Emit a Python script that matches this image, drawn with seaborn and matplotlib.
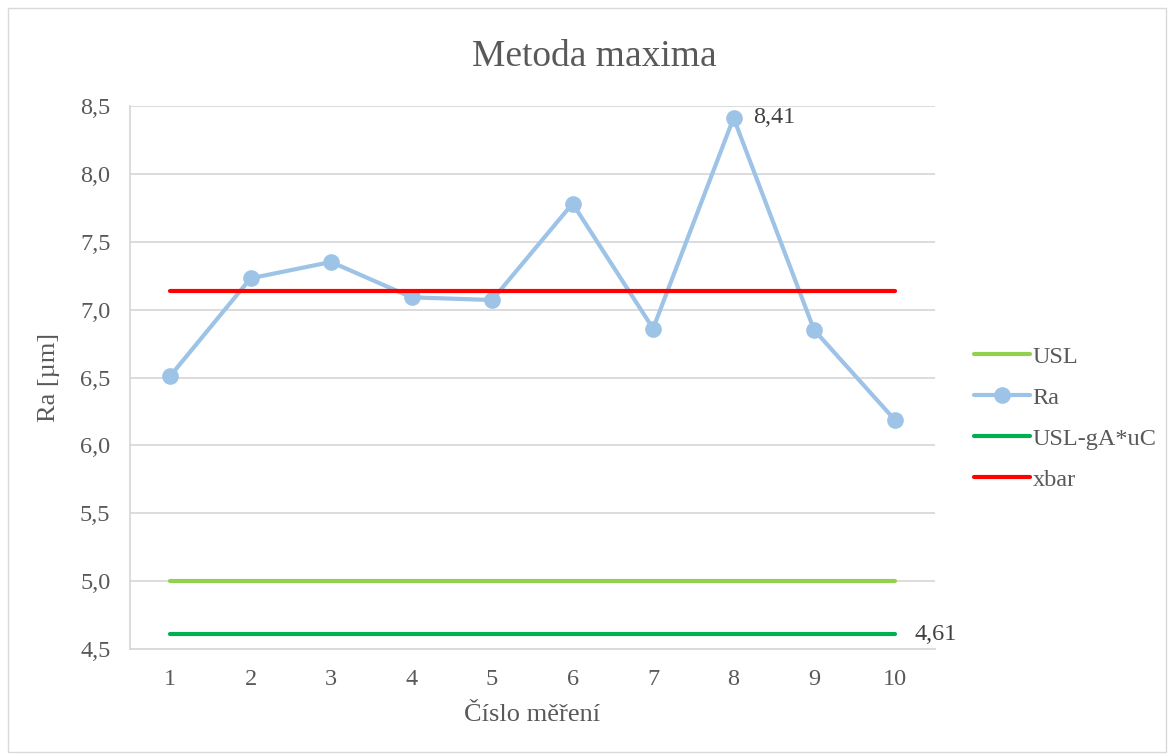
import pandas as pd
import matplotlib.pyplot as plt
import seaborn as sns
from matplotlib.patches import Rectangle
from matplotlib.ticker import FuncFormatter

# Chart data
mereni = [1, 2, 3, 4, 5, 6, 7, 8, 9, 10]
ra = [6.51, 7.23, 7.35, 7.09, 7.07, 7.78, 6.86, 8.41, 6.85, 6.19]
usl = [5.0] * 10
usl_ga_uc = [4.61] * 10
xbar = [7.134] * 10
y_ticks = [4.5, 5.0, 5.5, 6.0, 6.5, 7.0, 7.5, 8.0, 8.5]

data = pd.DataFrame({'mereni': mereni, 'USL': usl, 'Ra': ra,
                     'USL-gA*uC': usl_ga_uc, 'xbar': xbar})

sns.set_style('white')
plt.rcParams['font.family'] = ['Liberation Serif', 'DejaVu Serif']
text_col = '#595959'
grid_col = '#D9D9D9'

fig = plt.figure(figsize=(11.7, 7.55), dpi=100)
ax = fig.add_axes([0.111, 0.140, 0.688, 0.720])

sns.lineplot(data=data, x='mereni', y='USL', ax=ax, color='#92D050', linewidth=3, label='USL')
sns.lineplot(data=data, x='mereni', y='Ra', ax=ax, color='#9DC3E6', linewidth=3,
             marker='o', markersize=12, markeredgewidth=0, label='Ra')
sns.lineplot(data=data, x='mereni', y='USL-gA*uC', ax=ax, color='#00B050', linewidth=3, label='USL-gA*uC')
sns.lineplot(data=data, x='mereni', y='xbar', ax=ax, color='#FF0000', linewidth=3, label='xbar')

# data labels
i_max = ra.index(max(ra))
ax.annotate(f'{ra[i_max]:.2f}'.replace('.', ','), (mereni[i_max], ra[i_max]),
            xytext=(14, 0), textcoords='offset points', va='center', ha='left',
            fontsize=17.5, color='#404040')
ax.annotate(f'{usl_ga_uc[-1]:.2f}'.replace('.', ','), (mereni[-1], usl_ga_uc[-1]),
            xytext=(14, 0), textcoords='offset points', va='center', ha='left',
            fontsize=17.5, color='#404040')

ax.set_xlim(0.5, 10.5)
ax.set_ylim(4.5, 8.5)
ax.set_xticks(mereni)
ax.set_yticks(y_ticks)
ax.yaxis.set_major_formatter(FuncFormatter(lambda v, p: f'{v:.1f}'.replace('.', ',')))
ax.tick_params(axis='both', length=0, labelsize=17.5, labelcolor=text_col)
ax.tick_params(axis='x', pad=14)
ax.tick_params(axis='y', pad=14)
ax.grid(axis='y', color=grid_col, linewidth=1.3)
ax.set_axisbelow(True)
for side in ['top', 'right']:
    ax.spines[side].set_visible(False)
for side in ['left', 'bottom']:
    ax.spines[side].set_color(grid_col)
    ax.spines[side].set_linewidth(1.3)

ax.set_xlabel('Číslo měření', fontsize=19, color=text_col, labelpad=10)
ax.set_ylabel('Ra [µm]', fontsize=19, color=text_col, labelpad=14)
fig.suptitle('Metoda maxima', fontsize=27, color=text_col, x=0.508, y=0.948)

leg = ax.legend(loc='center left', bbox_to_anchor=(1.022, 0.425), frameon=False,
                fontsize=17.5, handlelength=2.3, handletextpad=0.1, labelspacing=0.78)
for t in leg.get_texts():
    t.set_color(text_col)

# outer chart border
fig.patches.append(Rectangle((0.007, 0.004), 0.99, 0.985, transform=fig.transFigure,
                             fill=False, edgecolor='#D9D9D9', linewidth=1))

plt.savefig('out.png', dpi=100)
